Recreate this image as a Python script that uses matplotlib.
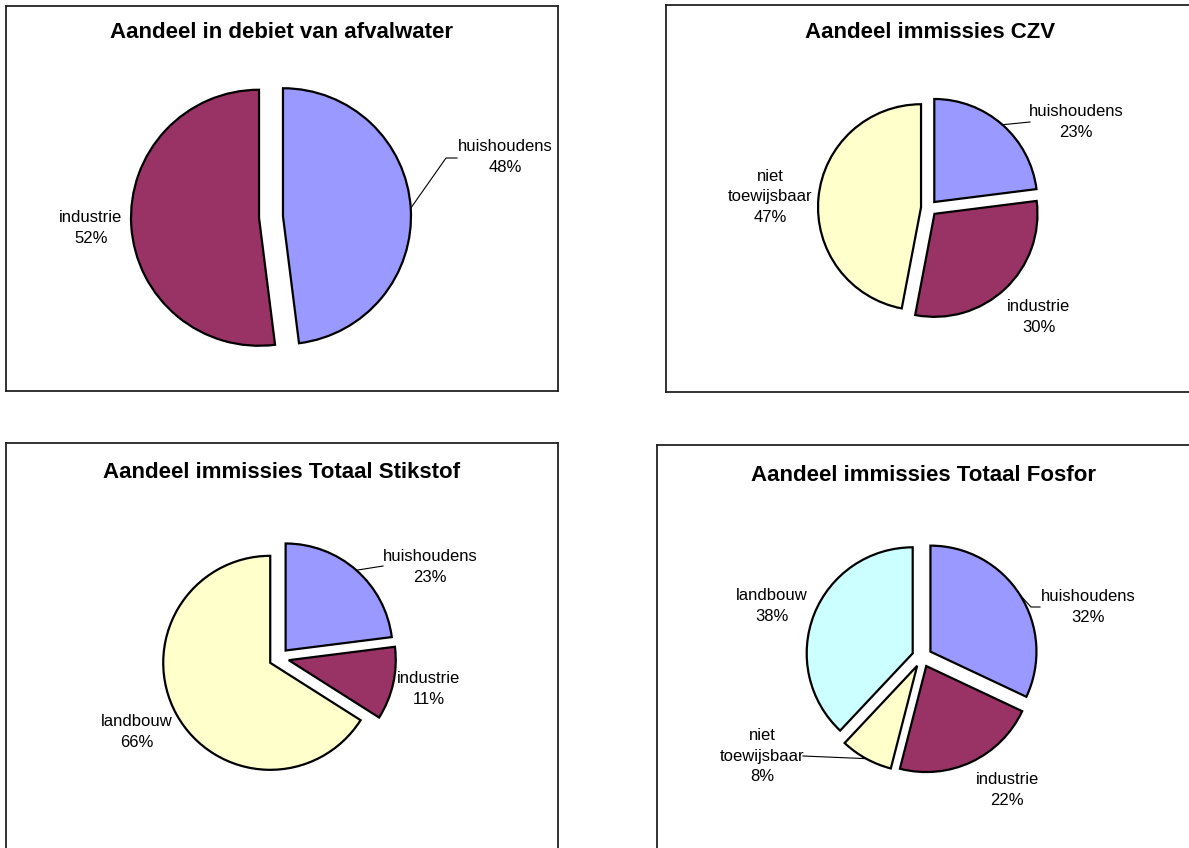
import numpy as np
import matplotlib.pyplot as plt

plt.rcParams['font.family'] = ['Liberation Sans', 'DejaVu Sans']

W, H = 1189, 848

# data (percentages, clockwise from 12 o'clock)
debiet_labels = ['huishoudens', 'industrie']
debiet_values = [48, 52]

czv_labels = ['huishoudens', 'industrie', 'niet\ntoewijsbaar']
czv_values = [23, 30, 47]

stikstof_labels = ['huishoudens', 'industrie', 'landbouw']
stikstof_values = [23, 11, 66]

fosfor_labels = ['huishoudens', 'industrie', 'niet\ntoewijsbaar', 'landbouw']
fosfor_values = [32, 22, 8, 38]

titles = ['Aandeel in debiet van afvalwater',
          'Aandeel immissies CZV',
          'Aandeel immissies Totaal Stikstof',
          'Aandeel immissies Totaal Fosfor']

# excel palette
purple = '#9999FF'
plum = '#993366'
cream = '#FFFFCC'
aqua = '#CCFFFF'

# layout in image pixels (x right, y down); explode is in pixels too
panels = [
    dict(labels=debiet_labels, values=debiet_values, colors=[purple, plum],
         box=(6, 6, 558, 391), center=(271, 217), r=128, explode=12,
         title_xy=(281, 33), label_xy=[(505, 157), (91, 228)],
         leaders={0: [(446, 158), (457, 158)]}),
    dict(labels=czv_labels, values=czv_values, colors=[purple, plum, cream],
         box=(666, 5, 1210, 392), center=(929, 208), r=103, explode=8,
         title_xy=(930, 32), label_xy=[(1076, 122), (1039, 317), (770, 197)],
         leaders={0: [(1030, 122)]}),
    dict(labels=stikstof_labels, values=stikstof_values, colors=[purple, plum, cream],
         box=(6, 443, 558, 870), center=(279, 658), r=107, explode=10,
         title_xy=(282, 473), label_xy=[(430, 567), (429, 689), (137, 732)],
         leaders={0: [(383, 566)]}),
    dict(labels=fosfor_labels, values=fosfor_values, colors=[purple, plum, cream, aqua],
         box=(657, 445, 1210, 870), center=(922, 657), r=106, explode=10,
         title_xy=(923, 475), label_xy=[(1088, 607), (1007, 790), (762, 756), (772, 606)],
         leaders={0: [(1031, 607), (1040, 607)], 2: [(803, 756)]}),
]

fig = plt.figure(figsize=(W / 100, H / 100), dpi=100)
fig.patch.set_facecolor('white')

for p, title in zip(panels, titles):
    x0, y0, x1, y1 = p['box']
    ax = fig.add_axes([x0 / W, 1 - y1 / H, (x1 - x0) / W, (y1 - y0) / H])
    cx, cy = p['center']
    wedges, _ = ax.pie(p['values'], colors=p['colors'],
                       explode=[p['explode']] * len(p['values']),
                       startangle=90, counterclock=False,
                       center=(cx, H - cy), radius=p['r'], frame=True,
                       wedgeprops=dict(edgecolor='black', linewidth=1.6))
    ax.set_xlim(x0, x1)
    ax.set_ylim(H - y1, H - y0)
    ax.set_xticks([])
    ax.set_yticks([])
    for s in ax.spines.values():
        s.set_linewidth(1.3)
        s.set_color('#222222')

    ax.text(p['title_xy'][0], H - p['title_xy'][1], title, ha='center', va='center',
            fontsize=16, fontweight='bold')

    for i, (lab, val) in enumerate(zip(p['labels'], p['values'])):
        lx, ly = p['label_xy'][i]
        ax.text(lx, H - ly, f'{lab}\n{val}%', ha='center', va='center',
                multialignment='center', fontsize=12, linespacing=1.45)
        if i in p['leaders']:
            w = wedges[i]
            mid = np.deg2rad((w.theta1 + w.theta2) / 2)
            xs = [w.center[0] + w.r * np.cos(mid)]
            ys = [w.center[1] + w.r * np.sin(mid)]
            for ex, ey in p['leaders'][i]:
                xs.append(ex)
                ys.append(H - ey)
            ax.plot(xs, ys, color='black', linewidth=0.8)

fig.savefig('out.png', dpi=100)
